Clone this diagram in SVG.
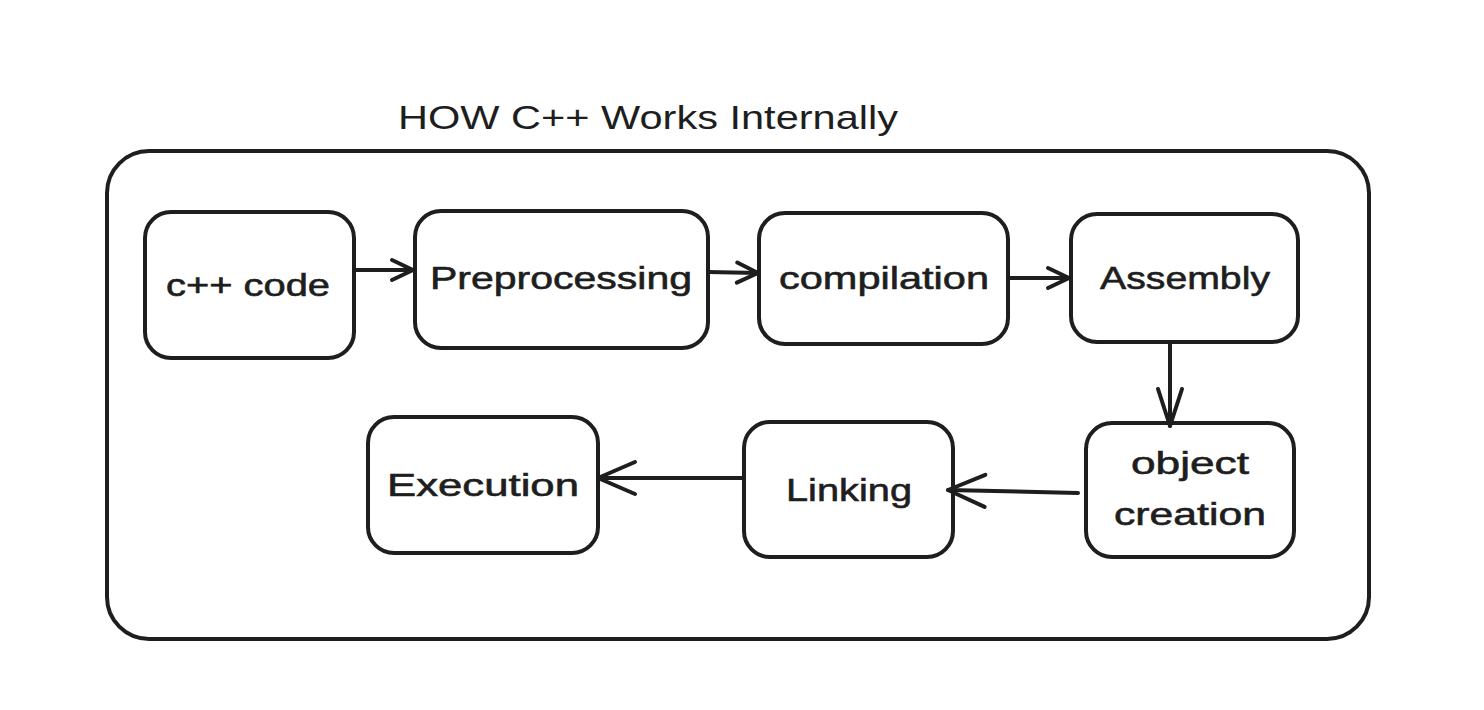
<svg xmlns="http://www.w3.org/2000/svg" width="1484" height="710" viewBox="0 0 1484 710">
<style>
.box{fill:#ffffff;stroke:#1e1e1e;stroke-width:4;}
.frame{fill:none;stroke:#1e1e1e;stroke-width:4;}
.lbl{font-family:"Liberation Sans","DejaVu Sans",sans-serif;font-size:32px;fill:#1e1e1e;text-anchor:middle;stroke:#1e1e1e;stroke-width:0.6;}
.title{font-family:"Liberation Sans","DejaVu Sans",sans-serif;font-size:34px;fill:#1e1e1e;}
.conn{fill:none;stroke:#1e1e1e;stroke-width:4;stroke-linecap:round;}
</style>
<defs>
<marker id="arr" viewBox="0 0 28 28" refX="25" refY="14" markerWidth="28" markerHeight="28" markerUnits="userSpaceOnUse" orient="auto">
<path d="M4,4 L25,14 L4,24" fill="none" stroke="#1e1e1e" stroke-width="4" stroke-linecap="round" stroke-linejoin="round"/>
</marker>
<marker id="arrL" viewBox="0 0 44 40" refX="41" refY="20" markerWidth="44" markerHeight="40" markerUnits="userSpaceOnUse" orient="auto">
<path d="M4,4 L41,20 L4,36" fill="none" stroke="#1e1e1e" stroke-width="4" stroke-linecap="round" stroke-linejoin="round"/>
</marker>
<marker id="arrD" viewBox="0 0 44 30" refX="41" refY="15" markerWidth="44" markerHeight="30" markerUnits="userSpaceOnUse" orient="auto">
<path d="M4,3 L41,15 L4,27" fill="none" stroke="#1e1e1e" stroke-width="4" stroke-linecap="round" stroke-linejoin="round"/>
</marker>
</defs>
<rect width="1484" height="710" fill="#ffffff"/>
<g id="title"><text class="title" x="398" y="129" textLength="500" lengthAdjust="spacingAndGlyphs">HOW C++ Works Internally</text></g>
<g id="frame"><rect class="frame" x="107" y="151" width="1262" height="488" rx="42" ry="42"/></g>
<g id="node-cpp"><rect class="box" x="145" y="212" width="209" height="146" rx="26"/><text class="lbl" x="248" y="296" textLength="164" lengthAdjust="spacingAndGlyphs">c++ code</text></g>
<g id="node-pre"><rect class="box" x="415" y="211" width="293" height="137" rx="26"/><text class="lbl" x="561" y="289" textLength="262" lengthAdjust="spacingAndGlyphs">Preprocessing</text></g>
<g id="node-comp"><rect class="box" x="759" y="213" width="249" height="131" rx="26"/><text class="lbl" x="884" y="289" textLength="210" lengthAdjust="spacingAndGlyphs">compilation</text></g>
<g id="node-asm"><rect class="box" x="1071" y="214" width="227" height="128" rx="26"/><text class="lbl" x="1185" y="289" textLength="170" lengthAdjust="spacingAndGlyphs">Assembly</text></g>
<g id="node-obj"><rect class="box" x="1086" y="423" width="208" height="134" rx="26"/><text class="lbl" x="1190" y="474" textLength="118" lengthAdjust="spacingAndGlyphs">object</text><text class="lbl" x="1190" y="525" textLength="152" lengthAdjust="spacingAndGlyphs">creation</text></g>
<g id="node-link"><rect class="box" x="744" y="422" width="209" height="135" rx="26"/><text class="lbl" x="849" y="501" textLength="126" lengthAdjust="spacingAndGlyphs">Linking</text></g>
<g id="node-exec"><rect class="box" x="368" y="417" width="230" height="136" rx="26"/><text class="lbl" x="483" y="496" textLength="192" lengthAdjust="spacingAndGlyphs">Execution</text></g>
<g id="connectors">
<path class="conn" d="M354,270 L413,270" marker-end="url(#arr)"/>
<path class="conn" d="M708,272 L758,273" marker-end="url(#arr)"/>
<path class="conn" d="M1010,278 L1069,278" marker-end="url(#arr)"/>
<path class="conn" d="M1170,344 L1170,426" marker-end="url(#arrD)"/>
<path class="conn" d="M1078,493 L948,490" marker-end="url(#arrL)"/>
<path class="conn" d="M742,478 L598,478" marker-end="url(#arrL)"/>
</g>
</svg>
